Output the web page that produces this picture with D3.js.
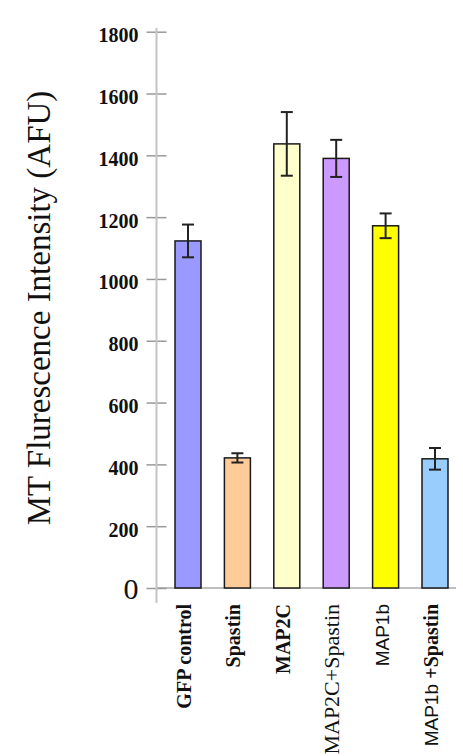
<!DOCTYPE html>
<html><head><meta charset="utf-8">
<script src="https://cdn.jsdelivr.net/npm/d3@7"></script>
<style>body{margin:0;background:#fff}svg{display:block}</style>
</head><body>
<script>
const categories = ["GFP control","Spastin","MAP2C","MAP2C+Spastin","MAP1b","MAP1b +Spastin"];
const values = [1123, 421, 1437, 1390, 1172, 418];
const errors = [53, 15, 103, 60, 40, 35];
const colors = ["#9999ff","#ffcc99","#ffffcc","#cc99ff","#ffff00","#99ccff"];
const yTicks = [0,200,400,600,800,1000,1200,1400,1600,1800];
const yTitle = "MT Flurescence Intensity (AFU)";

const W = 463, H = 756;
const svg = d3.select("body").append("svg").attr("width", W).attr("height", H);
const y = d3.scaleLinear().domain([0,1800]).range([588, 31.7]);
const x = d3.scalePoint().domain(categories).range([163.3, 459.7]).padding(0.5);
const axisX = 156.5, barW = 26;

// baseline
svg.append("line").attr("x1", axisX).attr("x2", 456).attr("y1", y(0)).attr("y2", y(0))
  .attr("stroke", "#a8a8a8").attr("stroke-width", 1.5);

// y axis
const ax = svg.append("g").attr("transform", `translate(${axisX},0)`)
  .call(d3.axisLeft(y).tickValues(yTicks).tickSize(0).tickFormat(d3.format("d")));
ax.select(".domain").remove();
ax.append("line").attr("x1",0).attr("x2",0).attr("y1",28).attr("y2",603)
  .attr("stroke","#c4c4c4").attr("stroke-width",2);
ax.selectAll(".tick line").attr("x1",-10).attr("x2",10).attr("stroke","#999").attr("stroke-width",1.5);
ax.selectAll(".tick text")
  .attr("x", -18).attr("dy", null).attr("y", 10)
  .attr("fill","#111")
  .style("font-family","'Liberation Serif', serif")
  .style("font-weight", d => d === 0 ? "normal" : "bold")
  .style("font-size", d => d === 0 ? "30px" : "20px")
  .attr("text-anchor","end");

// bars
svg.selectAll("rect.bar").data(categories).join("rect").attr("class","bar")
  .attr("x", d => x(d) - barW/2).attr("width", barW)
  .attr("y", (d,i) => y(values[i])).attr("height", (d,i) => y(0) - y(values[i]))
  .attr("fill", (d,i) => colors[i]).attr("stroke", "#1a1a1a").attr("stroke-width", 1.5);

// error bars
const eb = svg.selectAll("g.err").data(categories).join("g").attr("class","err")
  .attr("stroke","#222").attr("stroke-width",2);
eb.append("line").attr("x1", d=>x(d)).attr("x2", d=>x(d))
  .attr("y1",(d,i)=>y(values[i]+errors[i])).attr("y2",(d,i)=>y(values[i]-errors[i]));
eb.append("line").attr("x1", d=>x(d)-6).attr("x2", d=>x(d)+6)
  .attr("y1",(d,i)=>y(values[i]+errors[i])).attr("y2",(d,i)=>y(values[i]+errors[i]));
eb.append("line").attr("x1", d=>x(d)-6).attr("x2", d=>x(d)+6)
  .attr("y1",(d,i)=>y(values[i]-errors[i])).attr("y2",(d,i)=>y(values[i]-errors[i]));

// category labels
const serifB = {family:"'Liberation Serif', serif", weight:"bold", size:"20px"};
const serifR = {family:"'Liberation Serif', serif", weight:"normal", size:"22px"};
const sans = {family:"'Liberation Sans', Arial, sans-serif", weight:"normal", size:"19px"};
const labelParts = [
  [[categories[0], serifB]],
  [[categories[1], serifB]],
  [[categories[2], serifB]],
  [[categories[3], serifR]],
  [[categories[4], sans]],
  [["MAP1b ", sans], ["+Spastin", serifB]]
];
const labelTop = 604;
categories.forEach((c,i) => {
  const t = svg.append("text")
    .attr("transform", `translate(${x(c)+3},${labelTop}) rotate(-90)`)
    .attr("text-anchor","end").attr("fill","#111");
  labelParts[i].forEach(([s, f]) => {
    t.append("tspan").text(s)
      .style("font-family", f.family).style("font-weight", f.weight).style("font-size", f.size);
  });
});

// y title
svg.append("text").attr("transform","translate(50,308) rotate(-90)")
  .attr("text-anchor","middle").attr("fill","#111")
  .style("font-family","'Liberation Serif', serif").style("font-size","33px")
  .text(yTitle);
</script>
</body></html>
